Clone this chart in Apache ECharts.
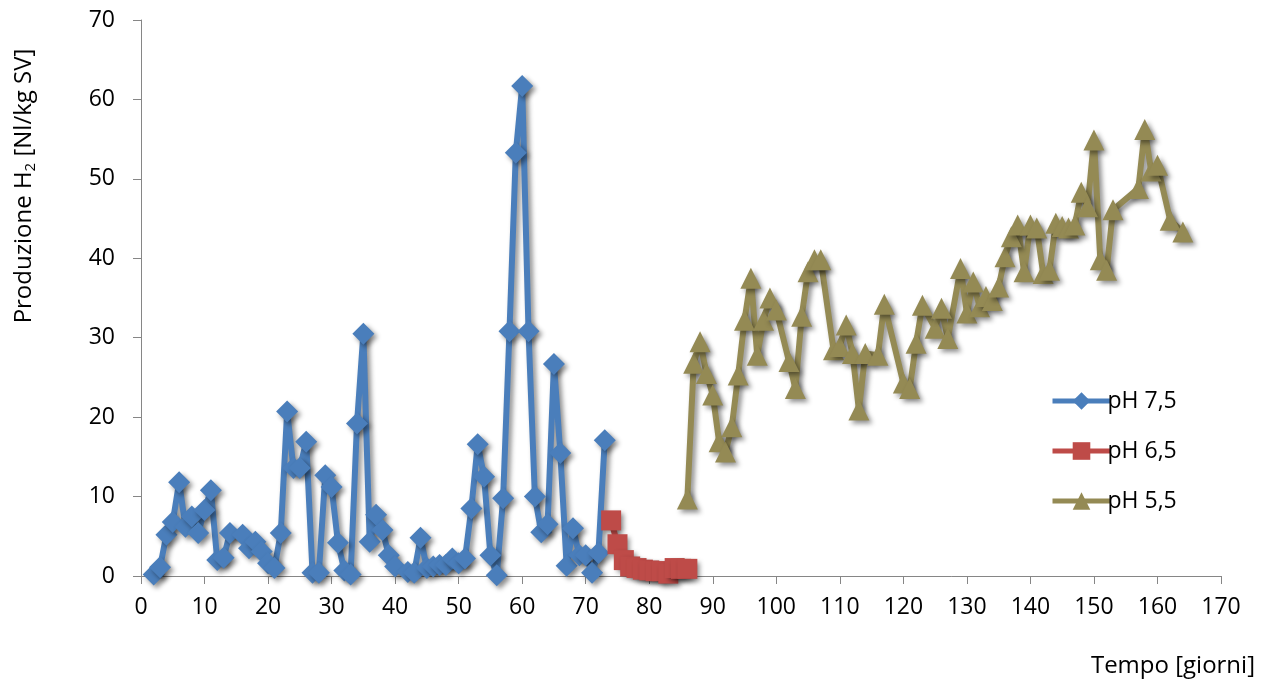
<!DOCTYPE html>
<html>
<head>
<meta charset="utf-8">
<script src="https://cdn.jsdelivr.net/npm/echarts@6/dist/echarts.min.js"></script>
<style>
  html, body { margin: 0; padding: 0; background: #fff; }
  #chart { width: 1271px; height: 688px; }
</style>
</head>
<body>
<div id="chart"></div>
<script>
// Hydrogen production per day, three pH phases
const daysPH75 = [2, 3, 4, 5, 6, 7, 8, 9, 10, 11, 12, 13, 14, 16, 17, 18, 19, 20, 21, 22,
  23, 24, 25, 26, 27, 28, 29, 30, 31, 32, 33, 34, 35, 36, 37, 38, 39, 40, 42, 43,
  44, 45, 46, 47, 48, 49, 50, 51, 52, 53, 54, 55, 56, 57, 58, 59, 60, 61, 62, 63,
  64, 65, 66, 67, 68, 69, 70, 71, 72, 73];
const valsPH75 = [0.2, 1.1, 5.2, 6.8, 11.8, 6.2, 7.5, 5.4, 8.3, 10.8, 2.0, 2.3, 5.4, 5.2, 3.5, 4.3, 3.1, 1.6, 1.0, 5.4,
  20.7, 13.6, 13.6, 16.9, 0.4, 0.4, 12.7, 11.2, 4.2, 0.7, 0.2, 19.2, 30.5, 4.3, 7.7, 5.8, 2.6, 1.2, 0.5, 0.4,
  4.8, 1.0, 1.2, 1.4, 1.4, 2.2, 1.6, 2.2, 8.5, 16.6, 12.5, 2.6, 0.1, 9.8, 30.8, 53.3, 61.7, 30.8, 10.0, 5.5,
  6.5, 26.7, 15.5, 1.3, 6.0, 2.6, 2.6, 0.4, 2.9, 17.1];

const daysPH65 = [74, 75, 76, 77, 78, 79, 80, 81, 82, 83, 84, 85, 86];
const valsPH65 = [7.0, 4.0, 2.0, 1.2, 1.0, 0.8, 0.7, 0.6, 0.6, 0.3, 1.0, 0.9, 0.9];

const daysPH55 = [86, 87, 88, 89, 90, 91, 92, 93, 94, 95, 96, 97, 98, 99, 100, 102, 103, 104, 105, 106,
  107, 109, 110, 111, 112, 113, 114, 116, 117, 120, 121, 122, 123, 125, 126, 127, 129, 130, 131, 132,
  133, 134, 135, 136, 137, 138, 139, 140, 141, 142, 143, 144, 145, 146, 147, 148, 149, 150, 151, 152,
  153, 157, 158, 159, 160, 162, 164];
const valsPH55 = [9.7, 26.8, 29.5, 25.5, 22.8, 16.9, 15.6, 18.8, 25.3, 32.2, 37.5, 27.8, 32.2, 35.0, 33.5, 27.0, 23.6, 32.7, 38.3, 39.8,
  39.8, 28.5, 28.9, 31.6, 28.0, 20.9, 28.0, 27.8, 34.2, 24.3, 23.6, 29.3, 34.1, 31.2, 33.7, 29.9, 38.7, 33.1, 37.0, 33.9,
  35.2, 34.7, 36.4, 40.2, 42.7, 44.2, 38.3, 44.2, 43.8, 38.1, 38.5, 44.4, 44.0, 43.8, 44.2, 48.3, 46.5, 54.9, 39.8, 38.5,
  46.1, 48.8, 56.2, 51.0, 51.7, 44.8, 43.3];

const seriesNames = ['pH 7,5', 'pH 6,5', 'pH 5,5'];
const xTicks = { min: 0, max: 170, step: 10 };
const yTicks = { min: 0, max: 70, step: 10 };

const FONT = '"Open Sans", "DejaVu Sans", sans-serif';
const AXIS_GREY = '#868686';
const SHADOW = 'rgba(0,0,0,0.45)';

function pairs(xs, ys) { return xs.map((x, i) => [x, ys[i]]); }

function lineSeries(name, data, color, symbol, size) {
  return {
    name: name,
    type: 'line',
    data: data,
    symbol: symbol,
    symbolSize: size,
    lineStyle: {
      color: color, width: 6,
      shadowColor: SHADOW, shadowBlur: 5, shadowOffsetX: 3, shadowOffsetY: 3
    },
    itemStyle: {
      color: color, borderColor: color, borderWidth: 0,
      shadowColor: SHADOW, shadowBlur: 5, shadowOffsetX: 3, shadowOffsetY: 3
    },
    emphasis: { disabled: true },
    animation: false
  };
}

const chart = echarts.init(document.getElementById('chart'), null, { renderer: 'canvas' });

chart.setOption({
  backgroundColor: '#ffffff',
  textStyle: { fontFamily: FONT },
  grid: { left: 141, right: 50, top: 20, bottom: 112, containLabel: false },
  xAxis: {
    type: 'value',
    min: xTicks.min, max: xTicks.max, interval: xTicks.step,
    name: 'Tempo [giorni]',
    nameLocation: 'end',
    nameGap: 34,
    nameTextStyle: {
      fontFamily: FONT, fontSize: 24, color: '#000',
      align: 'right', verticalAlign: 'top', padding: [78, 0, 0, 0]
    },
    axisLine: { show: true, lineStyle: { color: AXIS_GREY, width: 1 } },
    axisTick: { show: true, inside: false, length: 8, lineStyle: { color: AXIS_GREY } },
    axisLabel: { fontFamily: FONT, fontSize: 23, color: '#000', margin: 20 },
    splitLine: { show: false }
  },
  yAxis: {
    type: 'value',
    min: yTicks.min, max: yTicks.max, interval: yTicks.step,
    axisLine: { show: true, lineStyle: { color: AXIS_GREY, width: 1 } },
    axisTick: { show: true, inside: false, length: 8, lineStyle: { color: AXIS_GREY } },
    axisLabel: { fontFamily: FONT, fontSize: 23, color: '#000', margin: 26 },
    splitLine: { show: false }
  },
  legend: {
    orient: 'vertical',
    left: 1045,
    top: 382,
    itemWidth: 58,
    itemHeight: 22,
    itemGap: 22,
    lineStyle: { width: 5 },
    itemStyle: { shadowBlur: 0, shadowOffsetX: 0, shadowOffsetY: 0 },
    textStyle: { fontFamily: FONT, fontSize: 23, color: '#000', lineHeight: 28, padding: [0, 0, 0, -8] },
    data: seriesNames
  },
  graphic: [{
    type: 'text',
    x: 24,
    y: 186,
    rotation: Math.PI / 2,
    style: {
      text: '{n|Produzione H}{s|2}{n| [Nl/kg SV]}',
      align: 'center',
      verticalAlign: 'middle',
      fill: '#000',
      font: '24px ' + FONT,
      rich: {
        n: { fontFamily: FONT, fontSize: 24, fill: '#000', color: '#000' },
        s: { fontFamily: FONT, fontSize: 15, fill: '#000', color: '#000', verticalAlign: 'bottom', padding: [14, 0, 0, 0] }
      }
    }
  }],
  series: [
    lineSeries(seriesNames[0], pairs(daysPH75, valsPH75), '#4A7EBB', 'diamond', 22),
    lineSeries(seriesNames[1], pairs(daysPH65, valsPH65), '#BE4B48', 'rect', 20),
    lineSeries(seriesNames[2], pairs(daysPH55, valsPH55), '#948A54', 'triangle', 21)
  ]
});
</script>
</body>
</html>
